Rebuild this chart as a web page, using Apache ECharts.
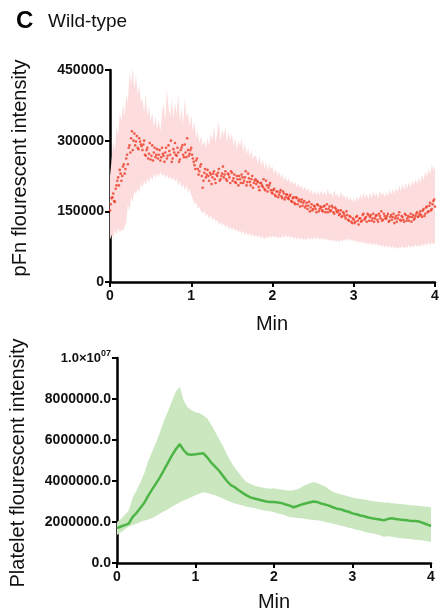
<!DOCTYPE html>
<html>
<head>
<meta charset="utf-8">
<script src="https://cdn.jsdelivr.net/npm/echarts@6/dist/echarts.min.js"></script>
<style>html,body{margin:0;padding:0;background:#fff}#c{width:443px;height:612px}</style>
</head>
<body>
<div id="c"></div>
<script>
// ---- Top panel: pFn fluorescent intensity (thousands), sampled every 0.02 min ----
const pfnStep = 0.02;
const pfnMeanK = [
152,178,188,170,205,222,238,215,245,230,
262,250,290,305,280,315,298,285,305,292,
280,300,268,285,272,260,290,275,265,282,
270,258,285,268,275,262,290,270,255,282,
295,268,275,260,285,270,292,265,280,272,
285,262,248,258,240,235,250,200,232,222,
238,215,228,222,235,210,225,240,218,230,
222,235,215,228,210,232,220,212,225,205,
218,228,210,222,205,230,212,218,200,215,
208,212,195,210,202,198,215,192,205,195,
188,198,182,192,185,195,178,188,180,185,
176,185,170,180,165,178,172,160,175,168,
158,168,162,150,165,155,160,148,163,155,
158,150,162,155,148,160,152,158,145,155,
148,142,152,140,145,135,142,130,138,125,
132,128,140,122,135,130,145,135,128,142,
138,130,145,135,142,128,140,150,132,140,
135,145,130,142,138,125,140,135,148,130,
138,128,142,135,130,145,138,132,140,148,
140,150,138,155,145,160,150,168,155,172,160];
// intermediate samples (t = 0.01, 0.03, ... 3.99)
const pfnMidK = [
165,180,172,198,215,205,230,225,250,240,
270,285,275,320,300,290,310,282,298,288,
292,270,280,262,295,268,258,285,270,262,
280,265,272,255,285,268,278,300,262,275,
270,285,255,280,290,265,275,305,268,280,
270,255,240,262,228,245,225,215,240,228,
225,232,208,230,218,228,232,215,225,245,
228,218,230,222,235,215,228,210,218,225,
210,222,215,235,212,220,205,225,210,218,
215,202,210,205,218,195,205,200,210,190,
195,185,192,180,190,182,192,175,186,178,
182,172,178,168,180,165,175,170,162,172,
162,155,170,158,152,162,155,165,150,160,
152,160,148,165,155,150,162,148,158,150,
152,145,138,148,140,150,132,140,128,135,
125,138,130,135,128,142,132,138,145,130,
142,135,128,140,132,145,135,130,145,135,
140,128,138,132,145,135,128,142,132,140,
132,145,130,140,138,128,142,135,145,138,
145,142,152,140,158,148,162,152,165,175];
const pfnUpperK = [
225,260,300,280,330,310,360,340,380,350,
400,380,445,420,455,410,440,395,420,380,
390,360,400,350,375,340,360,330,350,325,
345,320,360,380,340,410,370,350,390,345,
380,355,400,340,370,335,390,350,360,330,
355,320,340,305,320,295,310,290,300,285,
305,290,315,300,330,295,320,340,300,325,
310,330,295,320,300,315,290,305,280,300,
290,305,275,295,270,285,265,280,260,270,
265,250,270,245,260,240,255,235,250,240,
245,230,240,225,235,220,230,215,225,212,
220,208,215,205,212,200,210,198,205,195,
202,192,200,188,196,185,195,185,192,183,
195,185,192,182,198,185,190,180,195,182,
188,178,192,180,186,175,185,172,180,170,
178,168,182,172,185,175,190,178,186,175,
190,178,192,182,188,178,195,183,190,180,
192,182,196,185,198,186,200,190,205,192,
208,195,210,198,212,200,215,205,218,208,
222,210,228,215,235,222,240,228,250,238,245];
const pfnLowerK = [
90,100,95,110,100,115,105,112,108,118,
125,165,150,180,170,195,185,200,190,210,
200,215,205,220,210,225,215,230,220,232,
222,235,225,230,220,228,218,225,215,222,
212,220,205,215,200,208,195,205,190,198,
185,175,165,170,155,160,150,145,152,140,
145,135,142,130,138,128,132,122,128,118,
125,115,122,112,118,110,115,108,112,105,
110,102,108,100,106,98,104,96,102,95,
100,94,99,92,97,90,96,92,98,93,
99,94,98,92,97,93,99,94,100,95,
98,93,97,91,96,90,95,90,94,89,
93,88,95,90,94,89,96,91,95,90,
94,89,93,88,92,87,91,86,90,85,
89,84,90,86,92,87,93,88,91,86,
90,85,88,83,87,82,86,80,85,79,
84,78,83,77,82,76,80,75,79,74,
78,73,77,72,76,71,75,70,74,72,
76,71,75,73,78,72,77,74,80,75,
79,74,81,76,82,77,84,78,85,80,82];
const pfnYTicks = [0, 150000, 300000, 450000];

// ---- Bottom panel: platelet fluorescent intensity (millions), every 0.05 min ----
const pltStep = 0.05;
const pltMeanM = [
1.70,1.78,1.85,1.92,2.25,2.45,2.70,2.95,3.30,3.60,
3.90,4.20,4.55,4.90,5.25,5.55,5.80,5.50,5.30,5.28,
5.30,5.33,5.35,5.15,4.90,4.70,4.50,4.25,4.00,3.80,
3.70,3.55,3.42,3.30,3.20,3.15,3.10,3.05,3.00,2.98,
2.97,2.95,2.92,2.85,2.80,2.72,2.78,2.85,2.90,2.95,
3.00,2.98,2.90,2.85,2.80,2.72,2.65,2.62,2.55,2.50,
2.42,2.38,2.32,2.28,2.22,2.18,2.15,2.12,2.08,2.15,
2.18,2.15,2.12,2.10,2.08,2.05,2.05,2.02,1.95,1.88,
1.80];
const pltUpperM = [
2.00,2.15,2.35,2.55,3.20,3.55,3.95,4.40,5.00,5.45,
5.90,6.40,6.95,7.40,7.90,8.35,8.60,7.90,7.60,7.45,
7.35,7.30,7.20,7.05,6.75,6.40,6.05,5.70,5.30,4.95,
4.65,4.40,4.15,3.95,3.85,3.78,3.72,3.68,3.65,3.62,
3.65,3.60,3.58,3.55,3.52,3.55,3.60,3.70,3.80,3.88,
3.95,3.90,3.82,3.75,3.60,3.48,3.40,3.35,3.30,3.25,
3.20,3.15,3.12,3.10,3.06,3.02,3.00,2.98,2.95,2.95,
2.92,2.90,2.88,2.86,2.84,2.82,2.80,2.78,2.76,2.74,
2.72];
const pltLowerM = [
1.37,1.50,1.65,1.78,1.85,1.92,2.00,2.07,2.12,2.20,
2.30,2.42,2.52,2.62,2.75,2.85,2.95,3.05,3.12,3.22,
3.30,3.38,3.45,3.42,3.35,3.30,3.22,3.15,3.05,2.98,
2.90,2.85,2.80,2.75,2.72,2.68,2.62,2.58,2.55,2.52,
2.48,2.42,2.38,2.32,2.25,2.22,2.20,2.18,2.15,2.12,
2.10,2.08,2.05,2.00,1.96,1.92,1.88,1.82,1.78,1.72,
1.68,1.62,1.58,1.52,1.48,1.45,1.40,1.35,1.28,1.30,
1.28,1.25,1.22,1.20,1.18,1.16,1.14,1.12,1.10,1.06,
1.02];
const pltYTicks = [0, 2000000, 4000000, 6000000, 8000000, 10000000];
const xTicks = [0, 1, 2, 3, 4];

// ---- build series data ----
const K = 1000, M = 1000000;
const r2 = v => Math.round(v * 1000) / 1000;
const pfnScatter = [];
pfnMeanK.forEach((v, i) => pfnScatter.push([r2(i * pfnStep), v * K]));
pfnMidK.forEach((v, i) => pfnScatter.push([r2(i * pfnStep + pfnStep / 2), v * K]));
const pfnBand = pfnLowerK.map((lo, i) => [r2(i * pfnStep), lo * K, pfnUpperK[i] * K]);
const pltT = pltMeanM.map((_, i) => r2(i * pltStep));
const pltMean = pltMeanM.map((v, i) => [pltT[i], v * M]);
const pltBand = pltLowerM.map((v, i) => [pltT[i], v * M, pltUpperM[i] * M]);

// band drawn as one polygon through the axis scales (api.coord)
function bandRenderer(band, fill) {
  return (params, api) => {
    if (params.dataIndex !== 0) return null;
    const pts = [];
    for (let i = 0; i < band.length; i++) pts.push(api.coord([band[i][0], band[i][2]]));
    for (let i = band.length - 1; i >= 0; i--) pts.push(api.coord([band[i][0], band[i][1]]));
    return {type: 'polygon', shape: {points: pts}, style: {fill: fill, stroke: null}};
  };
}

const FONT = '"Liberation Sans", Arial, Helvetica, sans-serif';
const tickLabel = {fontFamily: FONT, fontWeight: 'bold', fontSize: 14, color: '#111'};
const axLine = {show: true, lineStyle: {color: '#000', width: 2.5}};
const axTick = {show: true, length: 5, lineStyle: {color: '#000', width: 2}};

const chart = echarts.init(document.getElementById('c'), null, {renderer: 'canvas'});
chart.setOption({
  animation: false,
  backgroundColor: '#fff',
  grid: [
    {left: 110, right: 8, top: 70, bottom: 330, containLabel: false},
    {left: 117, right: 12, top: 358, bottom: 49, containLabel: false}
  ],
  xAxis: [
    {gridIndex: 0, type: 'value', min: xTicks[0], max: xTicks[xTicks.length - 1], interval: 1,
     axisLine: axLine, axisTick: axTick, splitLine: {show: false},
     axisLabel: Object.assign({margin: 7}, tickLabel)},
    {gridIndex: 1, type: 'value', min: xTicks[0], max: xTicks[xTicks.length - 1], interval: 1,
     axisLine: axLine, axisTick: axTick, splitLine: {show: false},
     axisLabel: Object.assign({margin: 7}, tickLabel)}
  ],
  yAxis: [
    {gridIndex: 0, type: 'value', min: pfnYTicks[0], max: pfnYTicks[pfnYTicks.length - 1], interval: 150000,
     axisLine: axLine, axisTick: axTick, splitLine: {show: false},
     axisLabel: Object.assign({margin: 6, formatter: v => String(v)}, tickLabel)},
    {gridIndex: 1, type: 'value', min: pltYTicks[0], max: pltYTicks[pltYTicks.length - 1], interval: 2000000,
     axisLine: axLine, axisTick: axTick, splitLine: {show: false},
     axisLabel: Object.assign({margin: 6,
       formatter: v => v === 10000000 ? '{a|1.0×10}{s|07}' : (v).toFixed(1),
       rich: {
         a: {fontFamily: FONT, fontWeight: 'bold', fontSize: 13, color: '#111'},
         s: {fontFamily: FONT, fontWeight: 'bold', fontSize: 9, color: '#111', padding: [0, 0, 9, 0]}
       }}, tickLabel)}
  ],
  series: [
    {type: 'custom', xAxisIndex: 0, yAxisIndex: 0, data: pfnBand, encode: {x: 0, y: [1, 2]},
     silent: true, z: 1, renderItem: bandRenderer(pfnBand, '#fcdcdc')},
    {type: 'scatter', xAxisIndex: 0, yAxisIndex: 0, data: pfnScatter, symbolSize: 2.6,
     itemStyle: {color: '#ec3b25'}, silent: true, z: 3},
    {type: 'custom', xAxisIndex: 1, yAxisIndex: 1, data: pltBand, encode: {x: 0, y: [1, 2]},
     silent: true, z: 1, renderItem: bandRenderer(pltBand, '#cae7c0')},
    {type: 'line', xAxisIndex: 1, yAxisIndex: 1, data: pltMean, symbol: 'none',
     lineStyle: {color: '#4db545', width: 2.5}, silent: true, z: 3}
  ],
  graphic: [
    {type: 'text', left: 16, top: 9, style: {text: 'C', font: 'bold 24px ' + FONT, fill: '#000'}},
    {type: 'text', left: 48, top: 12, style: {text: 'Wild-type', font: '19px ' + FONT, fill: '#111'}},
    {type: 'text', x: 20, y: 168, rotation: Math.PI / 2,
     style: {text: 'pFn flourescent intensity', font: '20px ' + FONT, fill: '#111',
             align: 'center', verticalAlign: 'middle', textAlign: 'center', textVerticalAlign: 'middle'}},
    {type: 'text', x: 18, y: 463, rotation: Math.PI / 2,
     style: {text: 'Platelet flourescent intensity', font: '20px ' + FONT, fill: '#111',
             align: 'center', verticalAlign: 'middle', textAlign: 'center', textVerticalAlign: 'middle'}},
    {type: 'text', x: 272, y: 324,
     style: {text: 'Min', font: '20px ' + FONT, fill: '#111',
             align: 'center', verticalAlign: 'middle', textAlign: 'center', textVerticalAlign: 'middle'}},
    {type: 'text', x: 274, y: 602,
     style: {text: 'Min', font: '20px ' + FONT, fill: '#111',
             align: 'center', verticalAlign: 'middle', textAlign: 'center', textVerticalAlign: 'middle'}}
  ]
});
</script>
</body>
</html>
